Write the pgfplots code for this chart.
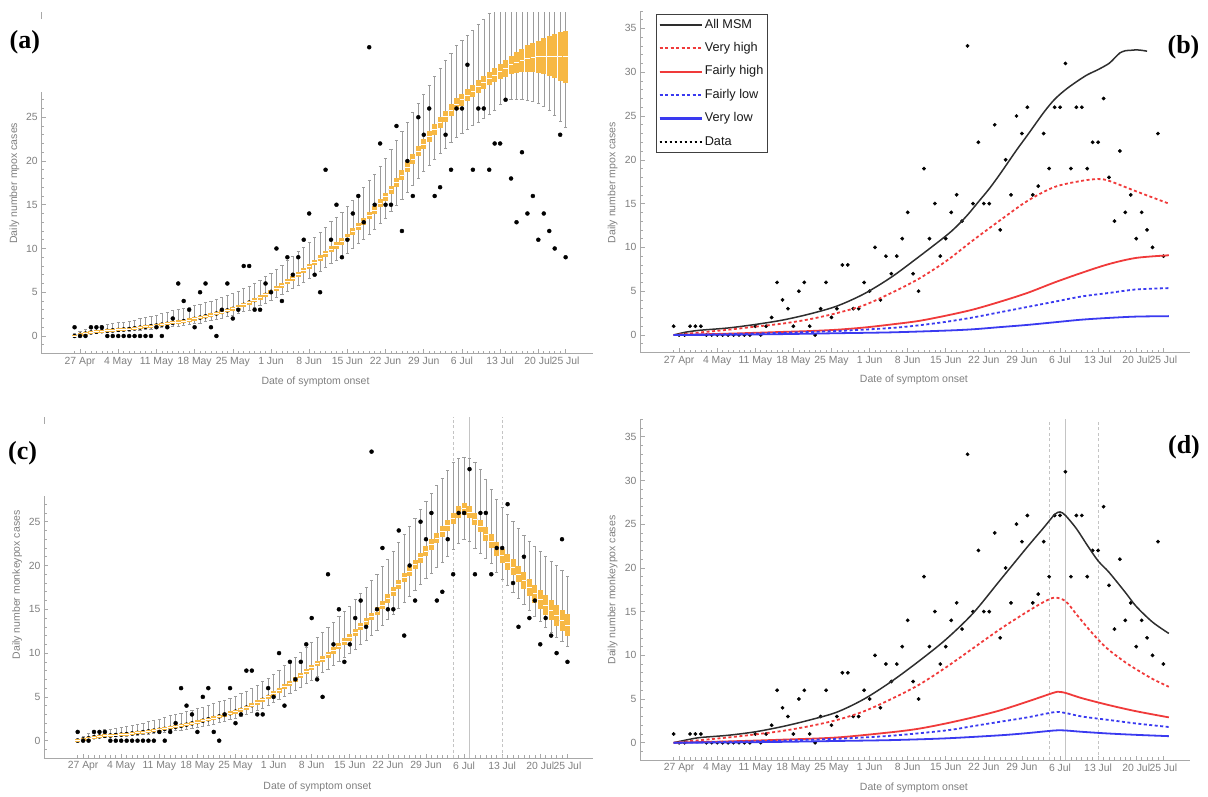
\documentclass[border=0pt]{standalone}
\usepackage{pgfplots}
\pgfplotsset{compat=1.18}
\usepackage{pgfplotstable}
\usepackage{fontspec}
\setmainfont{Liberation Sans}
\newfontfamily\serifbold{Liberation Serif}
\definecolor{axisc}{HTML}{A8A8A8}
\definecolor{textc}{HTML}{7F7F7F}
\definecolor{whisk}{HTML}{9C9C9C}
\definecolor{boxo}{HTML}{F7B844}
\definecolor{msm}{HTML}{2E2E2E}
\definecolor{myred}{HTML}{F03A3A}
\definecolor{myblue}{HTML}{3A3AF0}
\definecolor{vline}{HTML}{C4C4C4}

\pgfplotstableread{
x y
0 1
1 0
2 0
3 1
4 1
5 1
6 0
7 0
8 0
9 0
10 0
11 0
12 0
13 0
14 0
15 1
16 0
17 1
18 2
19 6
20 4
21 3
22 1
23 5
24 6
25 1
26 0
27 3
28 6
29 2
30 3
31 8
32 8
33 3
34 3
35 6
36 5
37 10
38 4
39 9
40 7
41 9
42 11
43 14
44 7
45 5
46 19
47 11
48 15
49 9
50 11
51 14
52 16
53 13
54 33
55 15
56 22
57 15
58 15
59 24
60 12
61 20
62 16
63 25
64 23
65 26
66 16
67 17
68 23
69 19
70 26
71 26
72 31
73 19
74 26
75 26
76 19
77 22
78 22
79 27
80 18
81 13
82 21
83 14
84 16
85 11
86 14
87 12
88 10
89 23
90 9
}\obsdata

\pgfplotstableread{
x m d wl wh
0 0.00 0.15 0.00 0.30
1 0.15 0.15 0.11 0.56
2 0.28 0.16 0.20 0.79
3 0.40 0.16 0.29 1.00
4 0.48 0.16 0.35 1.14
5 0.55 0.16 0.40 1.26
6 0.60 0.16 0.43 1.35
7 0.65 0.16 0.47 1.44
8 0.70 0.16 0.50 1.53
9 0.75 0.17 0.54 1.61
10 0.80 0.17 0.58 1.70
11 0.88 0.17 0.63 1.84
12 0.96 0.17 0.69 1.98
13 1.04 0.17 0.75 2.12
14 1.12 0.17 0.81 2.26
15 1.20 0.17 0.86 2.40
16 1.30 0.18 0.94 2.58
17 1.40 0.18 1.01 2.75
18 1.50 0.18 1.08 2.92
19 1.60 0.18 1.15 3.04
20 1.70 0.18 1.22 3.16
21 1.83 0.19 1.32 3.31
22 1.96 0.19 1.41 3.47
23 2.10 0.19 1.51 3.64
24 2.25 0.20 1.63 3.82
25 2.40 0.20 1.76 4.00
26 2.57 0.20 1.91 4.21
27 2.74 0.20 2.05 4.42
28 2.92 0.21 2.21 4.63
29 3.10 0.21 2.37 4.85
30 3.30 0.22 2.54 5.09
31 3.56 0.22 2.77 5.41
32 3.82 0.23 2.99 5.72
33 4.10 0.23 3.24 6.06
34 4.40 0.24 3.50 6.42
35 4.70 0.24 3.76 6.79
36 5.05 0.25 4.06 7.21
37 5.40 0.26 4.37 7.63
38 5.80 0.27 4.72 8.12
39 6.20 0.27 5.06 8.60
40 6.60 0.28 5.41 9.09
41 7.05 0.29 5.80 9.63
42 7.50 0.30 6.19 10.18
43 7.95 0.31 6.59 10.72
44 8.40 0.32 6.98 11.26
45 8.90 0.33 7.41 11.87
46 9.40 0.34 7.85 12.47
47 9.90 0.35 8.28 13.08
48 10.35 0.36 8.67 13.62
49 10.80 0.37 9.07 14.17
50 11.30 0.38 9.50 14.77
51 11.90 0.39 10.02 15.50
52 12.50 0.40 10.54 16.23
53 13.10 0.41 11.07 16.95
54 13.75 0.43 11.63 17.74
55 14.40 0.44 12.20 18.52
56 15.15 0.45 12.85 19.43
57 15.90 0.47 13.50 20.34
58 16.70 0.48 14.20 21.31
59 17.55 0.50 14.94 22.34
60 18.40 0.52 15.68 23.36
61 19.30 0.54 16.46 24.45
62 20.20 0.55 17.24 25.54
63 21.10 0.57 18.03 26.63
64 21.95 0.59 18.77 27.66
65 22.80 0.61 19.51 28.69
66 23.60 0.62 20.20 29.66
67 24.40 0.64 20.90 30.62
68 25.10 0.65 21.51 31.47
69 25.80 0.67 22.12 32.32
70 26.50 0.68 22.72 33.17
71 27.00 0.69 23.16 33.77
72 27.50 0.70 23.59 34.38
73 28.00 0.71 24.03 34.98
74 28.50 0.72 24.46 35.59
75 29.00 0.73 24.90 36.19
76 29.40 0.75 25.30 36.90
77 29.80 0.80 25.80 40
78 30.20 0.85 26.50 40
79 30.60 0.95 27.00 40
80 31.00 1.05 27.10 40
81 31.30 1.20 27.10 40
82 31.50 1.35 27.00 40
83 31.70 1.50 26.90 40
84 31.80 1.65 26.80 40
85 31.90 1.85 26.60 40
86 32.00 2.05 26.30 40
87 32.00 2.30 25.80 40
88 32.00 2.55 25.20 40
89 31.90 2.80 24.50 40
90 31.90 3.00 23.80 40
}\boxA

\pgfplotstableread{
x m d wl wh
0 0.00 0.15 0.00 0.30
1 0.15 0.15 0.11 0.56
2 0.28 0.16 0.20 0.79
3 0.40 0.16 0.29 1.00
4 0.48 0.16 0.35 1.14
5 0.55 0.16 0.40 1.26
6 0.60 0.16 0.43 1.35
7 0.65 0.16 0.47 1.44
8 0.70 0.16 0.50 1.53
9 0.76 0.17 0.55 1.63
10 0.83 0.17 0.60 1.75
11 0.90 0.17 0.65 1.88
12 0.98 0.17 0.71 2.02
13 1.06 0.17 0.76 2.16
14 1.15 0.17 0.83 2.31
15 1.25 0.18 0.90 2.49
16 1.35 0.18 0.97 2.66
17 1.46 0.18 1.05 2.85
18 1.58 0.18 1.14 3.01
19 1.70 0.18 1.22 3.16
20 1.83 0.19 1.32 3.31
21 1.97 0.19 1.42 3.48
22 2.12 0.19 1.53 3.67
23 2.28 0.20 1.65 3.86
24 2.44 0.20 1.79 4.05
25 2.60 0.20 1.93 4.25
26 2.77 0.21 2.08 4.45
27 2.95 0.21 2.24 4.67
28 3.13 0.21 2.39 4.89
29 3.32 0.22 2.56 5.12
30 3.52 0.22 2.73 5.36
31 3.78 0.23 2.96 5.67
32 4.05 0.23 3.19 6.00
33 4.35 0.24 3.45 6.36
34 4.67 0.24 3.73 6.75
35 5.00 0.25 4.02 7.15
36 5.38 0.26 4.35 7.61
37 5.77 0.27 4.69 8.08
38 6.17 0.27 5.04 8.57
39 6.58 0.28 5.39 9.06
40 7.00 0.29 5.76 9.57
41 7.45 0.30 6.15 10.11
42 7.90 0.31 6.54 10.66
43 8.35 0.32 6.93 11.20
44 8.80 0.33 7.33 11.75
45 9.30 0.34 7.76 12.35
46 9.80 0.35 8.20 12.96
47 10.30 0.36 8.63 13.56
48 10.80 0.37 9.07 14.17
49 11.30 0.38 9.50 14.77
50 11.80 0.39 9.94 15.38
51 12.40 0.40 10.46 16.10
52 13.00 0.41 10.98 16.83
53 13.60 0.42 11.50 17.56
54 14.20 0.43 12.02 18.28
55 14.80 0.45 12.55 19.01
56 15.50 0.46 13.16 19.86
57 16.25 0.48 13.81 20.76
58 17.00 0.49 14.46 21.67
59 17.80 0.51 15.16 22.64
60 18.60 0.52 15.85 23.61
61 19.35 0.54 16.50 24.51
62 20.10 0.55 17.16 25.42
63 20.90 0.57 17.85 26.39
64 21.65 0.58 18.50 27.30
65 22.40 0.60 19.16 28.20
66 23.15 0.61 19.81 29.11
67 23.85 0.63 20.42 29.96
68 24.60 0.64 21.07 30.87
69 25.35 0.66 21.80 31.80
70 26.10 0.67 22.50 32.20
71 26.50 0.68 23.00 32.40
72 26.10 0.68 22.80 32.20
73 25.30 0.70 22.00 31.80
74 24.50 0.72 21.40 31.00
75 23.60 0.75 20.80 29.80
76 22.80 0.78 20.20 28.70
77 21.90 0.80 19.20 27.60
78 21.10 0.83 18.40 26.70
79 20.40 0.86 17.70 25.80
80 19.80 0.90 17.00 25.00
81 19.00 0.93 16.30 24.20
82 18.30 0.96 15.60 23.50
83 17.50 1.00 14.90 22.80
84 16.80 1.03 14.20 22.20
85 16.10 1.06 13.60 21.60
86 15.50 1.10 13.00 21.00
87 14.90 1.13 12.40 20.50
88 14.30 1.17 11.80 20.00
89 13.70 1.20 11.30 19.40
90 13.20 1.25 10.80 18.80
}\boxC

\pgfplotsset{
  panel/.style={
    scale only axis, clip mode=individual,
    ymin=-2, ymax=37,
    axis x line=bottom, axis y line=left,
    x axis line style={-, draw=axisc, line width=0.8pt},
    y axis line style={-, draw=axisc, line width=0.8pt},
    tick align=inside,
    xtick={1,8,15,22,29,36,43,50,57,64,71,78,85,90},
    xticklabels={27 Apr,4 May,11 May,18 May,25 May,1 Jun,8 Jun,15 Jun,22 Jun,29 Jun,6 Jul,13 Jul,20 Jul,25 Jul},
    minor xtick={0,...,90},
    major tick length=4.5pt, minor tick length=2.8pt,
    tick style={draw=axisc, line width=0.6pt},
    tick label style={font=\fontsize{10.4}{12}\selectfont, text=textc},
    /pgf/number format/assume math mode=true,
    label style={font=\fontsize{10.5}{12}\selectfont, text=textc},
    xlabel={Date of symptom onset},
  },
  whiskers/.style={only marks, mark=none, forget plot,
    error bars/.cd, y dir=both, y explicit,
    error bar style={draw=whisk, line width=0.55pt},
    error mark options={rotate=90, draw=whisk, line width=0.55pt, mark size=1.6pt}},
  boxes/.style={only marks, mark=-, mark size=2.3pt, forget plot,
    mark options={draw=white, line width=0.8pt},
    error bars/.cd, y dir=both, y explicit,
    error bar style={draw=boxo, line width=5pt},
    error mark=none},
  dots/.style={only marks, mark=*, forget plot, mark options={fill=black, draw=none}},
  vh/.style={myred, line width=1.8pt, dash pattern=on 3pt off 2.5pt, smooth},
  fh/.style={myred, line width=1.8pt, smooth},
  fl/.style={myblue, line width=1.8pt, dash pattern=on 3pt off 2.5pt, smooth},
  vl/.style={myblue, line width=1.8pt, smooth},
  am/.style={msm, line width=1.5pt, smooth},
}

\begin{document}
\begin{tikzpicture}
\path[use as bounding box] (0pt,0pt) rectangle (1208pt,796pt);

% ---------------- (a)
\begin{axis}[panel, at={(41.3pt,442.5pt)}, anchor=south west,
  width=551.7pt, height=341.25pt, xmin=-6.1, xmax=95.02,
  ytick={0,5,...,25}, minor ytick={-2,...,27},
  y axis line style={draw=none},
  ylabel={Daily number mpox cases},
  xlabel style={at={(rel axis cs:0.497,-0.0835)}, anchor=center},
  ylabel style={at={(rel axis cs:-0.0486,0.4988)}, anchor=center}]
\draw[axisc, line width=0.8pt] (axis cs:-6.1,-2) -- (axis cs:-6.1,27.9);
\draw[axisc, line width=0.8pt] (axis cs:-6.1,36.2) -- (axis cs:-6.1,37);
\addplot[whiskers] table[x=x, y=m, y error plus expr=\thisrow{wh}-\thisrow{m}, y error minus expr=\thisrow{m}-\thisrow{wl}] {\boxA};
\addplot[boxes] table[x=x, y=m, y error plus=d, y error minus=d] {\boxA};
\addplot[dots, mark size=2pt] table[x=x, y=y] {\obsdata};
\end{axis}

% ---------------- (b)
\begin{axis}[panel, at={(640pt,443.5pt)}, anchor=south west,
  width=550pt, height=341.6pt, xmin=-6.19, xmax=94.89,
  ytick={0,5,...,35}, minor ytick={-2,...,37},
  ylabel={Daily number mpox cases},
  xlabel style={at={(rel axis cs:0.498,-0.08)}, anchor=center},
  ylabel style={at={(rel axis cs:-0.0495,0.497)}, anchor=center},
  legend style={at={(axis cs:-3.25,36.6)}, anchor=north west, draw=black!75, line width=0.8pt, fill=white,
    font=\fontsize{12.7}{14}\selectfont, inner xsep=2pt, inner ysep=2pt, row sep=7.2pt,
    nodes={inner sep=2pt, text height=9.2pt, text depth=3pt, anchor=west, text=black!90}},
  legend cell align=left,
  legend image code/.code={\path (0pt,0pt) -- (42pt,0pt); \draw[#1] (0pt,0pt) -- (35pt,0pt);}]
\addplot[dots, mark size=1.7pt] table[x=x, y=y] {\obsdata};
\addplot[am, forget plot] coordinates {(0,0) (2,0.3) (3,0.4) (5,0.55) (10,0.8) (15,1.2) (20,1.7) (25,2.4) (30,3.3) (35,4.7) (40,6.6) (45,8.9) (50,11.3) (52,12.4) (54,13.7) (56,15.2) (58,16.7) (60,18.4) (63,21.1) (65,22.8) (68,25.4) (70,26.9) (72,28.0) (74,28.9) (76,29.7) (78,30.3) (80,31.0) (81,31.6) (82,32.2) (83,32.45) (84,32.5) (85,32.55) (86,32.5) (87,32.4)};
\addplot[vh, forget plot] coordinates {(0,0) (5,0.3) (10,0.6) (15,0.95) (20,1.3) (25,1.8) (30,2.5) (35,3.4) (40,4.8) (45,6.4) (50,8.4) (55,10.8) (60,13.1) (65,15.3) (70,16.9) (75,17.6) (78,17.8) (80,17.6) (85,16.4) (91,15.0)};
\addplot[fh, forget plot] coordinates {(0,0) (10,0.15) (20,0.35) (25,0.45) (30,0.6) (35,0.85) (40,1.2) (45,1.6) (50,2.2) (55,2.9) (60,3.8) (65,4.8) (70,6.0) (75,7.1) (80,8.1) (85,8.8) (91,9.1)};
\addplot[fl, forget plot] coordinates {(0,0) (10,0.1) (20,0.25) (30,0.45) (40,0.8) (45,1.1) (50,1.5) (55,2.0) (60,2.6) (65,3.2) (70,3.8) (75,4.4) (80,4.8) (85,5.2) (91,5.35)};
\addplot[vl, forget plot] coordinates {(0,0) (10,0.03) (20,0.1) (30,0.2) (40,0.3) (50,0.5) (55,0.65) (60,0.9) (65,1.15) (70,1.45) (75,1.75) (80,1.95) (85,2.1) (91,2.15)};
\addlegendimage{msm, line width=1.8pt}
\addlegendentry{All MSM}
\addlegendimage{myred, line width=2.2pt, dash pattern=on 3pt off 2.5pt}
\addlegendentry{Very high}
\addlegendimage{myred, line width=2.2pt}
\addlegendentry{Fairly high}
\addlegendimage{myblue, line width=2.2pt, dash pattern=on 3pt off 2.5pt}
\addlegendentry{Fairly low}
\addlegendimage{myblue, line width=2.2pt}
\addlegendentry{Very low}
\addlegendimage{black, line width=2.4pt, dash pattern=on 2.4pt off 2.6pt}
\addlegendentry{Data}
\end{axis}

% ---------------- (c)
\begin{axis}[panel, at={(44pt,37.8pt)}, anchor=south west,
  width=549pt, height=341.6pt, xmin=-6.19, xmax=94.69,
  ytick={0,5,...,25}, minor ytick={-2,...,27},
  y axis line style={draw=none},
  ylabel={Daily number monkeypox cases},
  xlabel style={at={(rel axis cs:0.498,-0.083)}, anchor=center},
  ylabel style={at={(rel axis cs:-0.0488,0.507)}, anchor=center}]
\draw[axisc, line width=0.8pt] (axis cs:-6.19,-2) -- (axis cs:-6.19,27.9);
\draw[axisc, line width=0.8pt] (axis cs:-6.19,36.2) -- (axis cs:-6.19,37);
\addplot[vline, line width=0.7pt, dash pattern=on 3pt off 2.5pt, forget plot] coordinates {(69,-2) (69,37)};
\addplot[vline, line width=0.7pt, forget plot] coordinates {(72,-2) (72,37)};
\addplot[vline, line width=0.7pt, dash pattern=on 3pt off 2.5pt, forget plot] coordinates {(78,-2) (78,37)};
\addplot[whiskers] table[x=x, y=m, y error plus expr=\thisrow{wh}-\thisrow{m}, y error minus expr=\thisrow{m}-\thisrow{wl}] {\boxC};
\addplot[boxes] table[x=x, y=m, y error plus=d, y error minus=d] {\boxC};
\addplot[dots, mark size=2pt] table[x=x, y=y] {\obsdata};
\end{axis}

% ---------------- (d)
\begin{axis}[panel, at={(640pt,35.8pt)}, anchor=south west,
  width=550pt, height=340.9pt, xmin=-6.19, xmax=94.89,
  ytick={0,5,...,35}, minor ytick={-2,...,37},
  ylabel={Daily number monkeypox cases},
  xlabel style={at={(rel axis cs:0.498,-0.082)}, anchor=center},
  ylabel style={at={(rel axis cs:-0.0495,0.499)}, anchor=center}]
\addplot[vline, line width=0.7pt, dash pattern=on 3pt off 2.5pt, forget plot] coordinates {(69,-2) (69,37)};
\addplot[vline, line width=0.7pt, forget plot] coordinates {(72,-2) (72,37)};
\addplot[vline, line width=0.7pt, dash pattern=on 3pt off 2.5pt, forget plot] coordinates {(78,-2) (78,37)};
\addplot[dots, mark size=1.7pt] table[x=x, y=y] {\obsdata};
\addplot[am] coordinates {(0,0) (3,0.4) (5,0.6) (10,0.85) (15,1.25) (20,1.85) (25,2.6) (30,3.5) (35,5.0) (40,7.0) (45,9.3) (50,11.8) (55,14.8) (60,18.6) (65,22.4) (68,24.6) (70,26.1) (71,26.4) (72,26.0) (74,24.5) (76,22.6) (78,20.8) (80,19.5) (83,17.2) (85,15.6) (88,13.8) (91,12.5)};
\addplot[vh] coordinates {(0,0) (5,0.3) (10,0.6) (15,0.95) (20,1.35) (25,1.9) (30,2.6) (35,3.6) (40,5.0) (45,6.6) (50,8.6) (55,10.8) (60,13.0) (65,15.0) (68,16.1) (70,16.6) (72,16.2) (74,14.7) (76,13.2) (78,11.8) (80,10.6) (83,9.2) (85,8.4) (88,7.3) (91,6.4)};
\addplot[fh] coordinates {(0,0) (10,0.15) (20,0.35) (30,0.6) (40,1.2) (45,1.6) (50,2.2) (55,2.9) (60,3.7) (65,4.7) (70,5.75) (71,5.8) (72,5.7) (75,5.1) (80,4.3) (85,3.6) (91,2.9)};
\addplot[fl] coordinates {(0,0) (10,0.1) (20,0.25) (30,0.45) (40,0.8) (50,1.4) (55,1.9) (60,2.4) (65,2.9) (70,3.5) (72,3.4) (75,3.0) (80,2.6) (85,2.2) (91,1.8)};
\addplot[vl] coordinates {(0,0) (10,0.03) (20,0.1) (30,0.2) (40,0.3) (50,0.5) (60,0.85) (65,1.1) (70,1.4) (72,1.4) (75,1.25) (80,1.05) (85,0.9) (91,0.75)};
\end{axis}

\node[font=\serifbold\bfseries\fontsize{26}{28}\selectfont] at (24.8pt,753.5pt) {(a)};
\node[font=\serifbold\bfseries\fontsize{26}{28}\selectfont] at (1183.5pt,748.5pt) {(b)};
\node[font=\serifbold\bfseries\fontsize{26}{28}\selectfont] at (22.6pt,343pt) {(c)};
\node[font=\serifbold\bfseries\fontsize{26}{28}\selectfont] at (1184pt,349pt) {(d)};
\end{tikzpicture}
\end{document}
